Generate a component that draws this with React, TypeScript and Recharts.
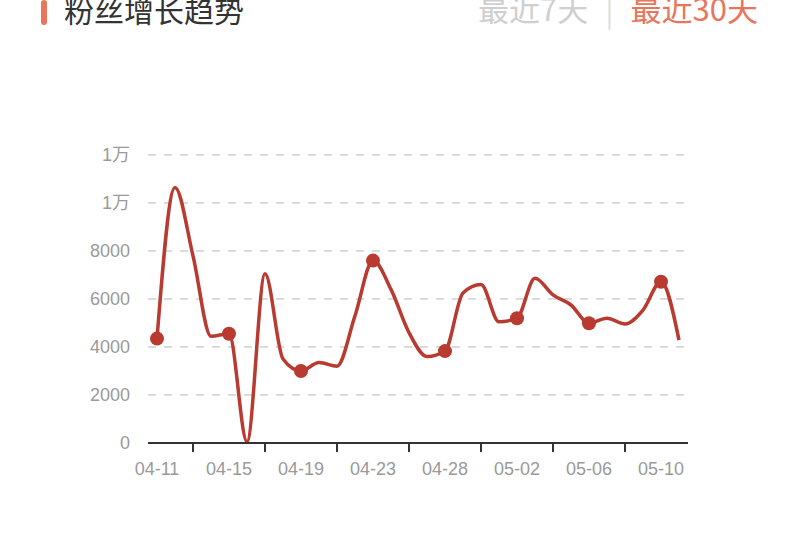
import React from 'react';
import { LineChart, Line, XAxis, YAxis, CartesianGrid } from 'recharts';

const dates = ['04-11','04-12','04-13','04-14','04-15','04-16','04-17','04-18','04-19','04-20','04-21','04-22','04-23','04-24','04-25','04-27','04-28','04-29','04-30','05-01','05-02','05-03','05-04','05-05','05-06','05-07','05-08','05-09','05-10','05-11'];
const fans = [4350, 10650, 7800, 4450, 4550, 50, 7050, 3500, 3000, 3350, 3200, 5300, 7600, 6400, 4600, 3600, 3830, 6250, 6600, 5050, 5200, 6860, 6170, 5750, 4990, 5200, 4960, 5540, 6720, 4290];
const yTicks = [0, 2000, 4000, 6000, 8000, 10000, 12000];

const data = dates.map((d, i) => ({ date: d, fans: fans[i] }));

const LINE_COLOR = '#b83a30';
const FONT = "'Liberation Sans', 'Noto Sans CJK SC', sans-serif";

const fmtY = (v: number) => (v >= 10000 ? `${Math.floor(v / 10000)}万` : `${v}`);

const XTick = (props: any) => {
  const { x, y, payload, index } = props;
  const i = payload?.index ?? index;
  if (i % 4 === 0) {
    return (
      <text x={x} y={y + 20} textAnchor="middle" fill="#9a9a9a" fontSize={18} fontFamily={FONT}>
        {payload.value}
      </text>
    );
  }
  if (i % 4 === 2) {
    return <line x1={x} x2={x} y1={y - 12} y2={y - 3} stroke="#333" strokeWidth={2} />;
  }
  return <g />;
};

const Dot = (props: any) => {
  const { cx, cy, index } = props;
  if (index % 4 !== 0) return <g key={`d${index}`} />;
  return <circle key={`d${index}`} cx={cx} cy={cy} r={7} fill={LINE_COLOR} stroke="none" />;
};

export default function App() {
  return (
    <div style={{ position: 'absolute', left: 0, top: 0, width: 800, height: 533, background: '#fff', overflow: 'hidden' }}>
      <div style={{ position: 'absolute', left: 41, top: 0, width: 6, height: 25, background: '#e8765c', borderRadius: 3 }} />
      <div style={{ position: 'absolute', left: 64, top: -9, fontSize: 30, lineHeight: '36px', color: '#333', fontFamily: "'Noto Sans CJK SC', sans-serif" }}>
        粉丝增长趋势
      </div>
      <div style={{ position: 'absolute', right: 42, top: -10, fontSize: 31, lineHeight: '36px', fontFamily: "'Noto Sans CJK SC', sans-serif", whiteSpace: 'nowrap' }}>
        <span style={{ color: '#cfcfcf' }}>最近7天</span>
        <span style={{ color: '#dcdcdc', margin: '0 17px' }}>|</span>
        <span style={{ color: '#e8765c' }}>最近30天</span>
      </div>
      <div style={{ position: 'absolute', left: 0, top: 0 }}>
        <LineChart width={800} height={533} data={data} margin={{ top: 155, right: 112, bottom: 60, left: 0 }}>
          <CartesianGrid horizontal vertical={false} stroke="#d0d0d0" strokeDasharray="8 8" strokeWidth={1.5} />
          <XAxis
            dataKey="date"
            interval={0}
            padding={{ left: 9, right: 9 }}
            axisLine={{ stroke: '#333', strokeWidth: 2 }}
            tickLine={false}
            tickSize={8}
            tickMargin={4}
            height={30}
            tick={<XTick />}
          />
          <YAxis
            domain={[0, 12000]}
            ticks={yTicks}
            tickFormatter={fmtY}
            axisLine={false}
            tickLine={false}
            tickSize={6}
            tickMargin={12}
            width={148}
            tick={{ fill: '#9a9a9a', fontSize: 18, fontFamily: FONT }}
          />
          <Line
            type="monotone"
            dataKey="fans"
            stroke={LINE_COLOR}
            strokeWidth={3.5}
            dot={Dot}
            activeDot={false}
            isAnimationActive={false}
          />
        </LineChart>
      </div>
    </div>
  );
}
